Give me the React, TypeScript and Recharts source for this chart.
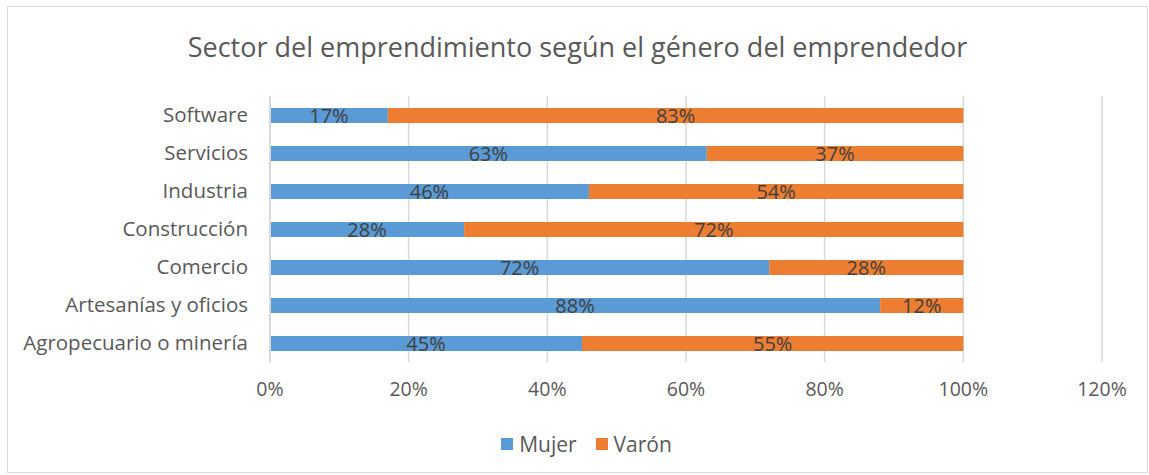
import { BarChart, Bar, XAxis, YAxis, CartesianGrid, LabelList } from 'recharts';

const categories = [
  'Software',
  'Servicios',
  'Industria',
  'Construcción',
  'Comercio',
  'Artesanías y oficios',
  'Agropecuario o minería',
];
const mujer = [17, 63, 46, 28, 72, 88, 45];
const varon = [83, 37, 54, 72, 28, 12, 55];
const xTicks = [0, 20, 40, 60, 80, 100, 120];

const data = categories.map((name, i) => ({ name, Mujer: mujer[i], Varon: varon[i] }));

const FONT = '"Open Sans", sans-serif';
const BLUE = '#5B9BD5';
const ORANGE = '#ED7D31';
const GRID = '#D9D9D9';

const pct = (v: any) => `${v}%`;

const LegendItem = ({ color, label }: { color: string; label: string }) => (
  <div style={{ display: 'flex', alignItems: 'center', marginRight: 19 }}>
    <span style={{ width: 12, height: 12, backgroundColor: color, marginRight: 6 }} />
    <span>{label}</span>
  </div>
);

const App = () => {
  return (
    <div style={{ position: 'absolute', top: 6, left: 7, width: 1141, height: 467, fontFamily: FONT }}>
      <div
        style={{
          position: 'absolute',
          top: 22,
          left: 0,
          width: '100%',
          textAlign: 'center',
          fontSize: 27,
          color: '#595959',
          lineHeight: '38px',
        }}
      >
        Sector del emprendimiento según el género del emprendedor
      </div>
      <div style={{ position: 'absolute', top: 1, left: 1 }}>
        <BarChart
          width={1139}
          height={465}
          data={data}
          layout="vertical"
          margin={{ top: 89, right: 45, left: 0, bottom: 71 }}
        >
          <CartesianGrid horizontal={false} stroke={GRID} strokeWidth={1.5} />
          <XAxis
            type="number"
            domain={[0, 120]}
            ticks={xTicks}
            tickFormatter={pct}
            axisLine={false}
            tickLine={false}
            tickSize={0}
            tickMargin={20}
            height={39}
            tick={{ fill: '#595959', fontSize: 19.5, fontFamily: FONT }}
          />
          <YAxis
            type="category"
            dataKey="name"
            width={262}
            axisLine={{ stroke: GRID, strokeWidth: 2 }}
            tickLine={false}
            tickSize={0}
            tickMargin={22}
            tick={{ fill: '#595959', fontSize: 20.5, fontFamily: FONT }}
          />
          <Bar dataKey="Mujer" stackId="a" fill={BLUE} barSize={15} isAnimationActive={false}>
            <LabelList dataKey="Mujer" position="center" formatter={pct} fill="#404040" fontSize={20} fontFamily={FONT} />
          </Bar>
          <Bar dataKey="Varon" name="Varón" stackId="a" fill={ORANGE} barSize={15} isAnimationActive={false}>
            <LabelList dataKey="Varon" position="center" formatter={pct} fill="#404040" fontSize={20} fontFamily={FONT} />
          </Bar>
        </BarChart>
      </div>
      <div
        style={{
          position: 'absolute',
          top: 424,
          left: 0,
          width: '100%',
          display: 'flex',
          justifyContent: 'center',
          fontSize: 21,
          color: '#595959',
          lineHeight: '28px',
          paddingLeft: 37,
          boxSizing: 'border-box',
        }}
      >
        <LegendItem color={BLUE} label="Mujer" />
        <LegendItem color={ORANGE} label="Varón" />
      </div>
      <div
        style={{
          position: 'absolute',
          top: 0,
          left: 0,
          width: 1141,
          height: 467,
          border: `1px solid ${GRID}`,
          boxSizing: 'border-box',
          pointerEvents: 'none',
        }}
      />
    </div>
  );
};

export default App;
